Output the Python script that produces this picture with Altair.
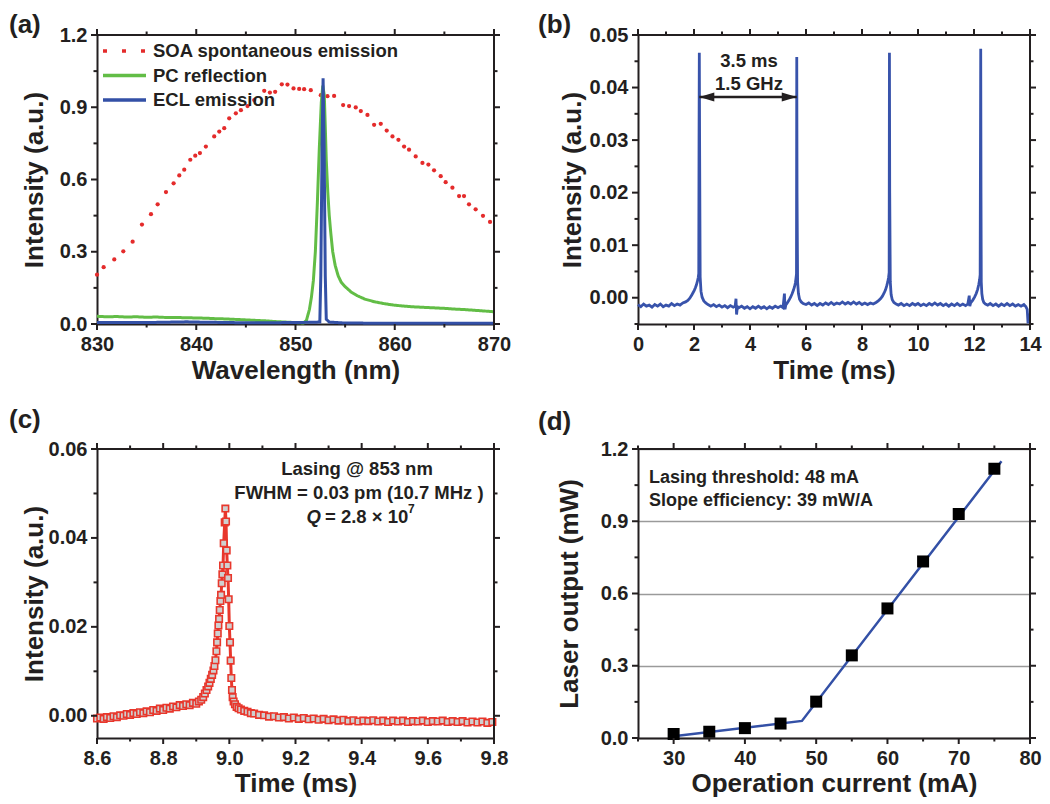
import altair as alt
import pandas as pd

FONT = "Liberation Sans"
INK = "#231f20"

# ---------------- (a) spectra ----------------
series_names = ["SOA spontaneous emission", "PC reflection", "ECL emission"]
series_colors = ["#e42b2b", "#62bd46", "#3350a6"]

soa_wl = [830.0, 830.67, 831.74, 832.65, 833.59, 834.53, 835.44, 836.11, 836.95, 837.72,
          838.29, 838.79, 839.40, 839.90, 840.37, 840.97, 841.81, 842.32, 842.82, 843.32,
          843.99, 844.50, 845.17, 845.84, 846.85, 847.42, 847.95, 848.62, 849.19, 849.80,
          850.37, 850.87, 851.54, 852.55, 853.22, 853.89, 854.80, 855.40, 856.07, 856.58,
          857.25, 857.92, 858.59, 859.19, 859.77, 860.37, 860.94, 861.44, 862.11, 862.79,
          863.39, 863.96, 864.63, 865.13, 865.81, 866.48, 866.98, 867.48, 868.15, 868.89,
          869.60]
soa_int = [0.205, 0.236, 0.268, 0.302, 0.342, 0.413, 0.456, 0.497, 0.548, 0.584,
           0.617, 0.641, 0.682, 0.699, 0.710, 0.737, 0.779, 0.799, 0.813, 0.854,
           0.875, 0.888, 0.905, 0.930, 0.968, 0.961, 0.964, 0.995, 0.994, 0.978,
           0.976, 0.975, 0.971, 0.950, 0.946, 0.947, 0.909, 0.905, 0.899, 0.884,
           0.868, 0.827, 0.831, 0.803, 0.779, 0.765, 0.737, 0.724, 0.696, 0.669,
           0.662, 0.638, 0.614, 0.589, 0.566, 0.531, 0.531, 0.497, 0.476, 0.449,
           0.424]

pc_wl = [830.0, 831, 832, 833, 834, 835, 836, 837, 838, 839, 840, 841, 842, 843, 844,
         845, 846, 847, 848, 849, 850, 850.8, 851.1, 851.4, 851.6, 851.8, 852.0, 852.2,
         852.4, 852.6, 852.75, 852.9, 853.0, 853.1, 853.25, 853.4, 853.55, 853.75, 854.0,
         854.3, 854.6, 855.0, 855.6, 856.2, 857, 858, 859, 860, 861, 862, 863, 864, 865,
         866, 867, 868, 869, 870]
pc_int = [0.032, 0.030, 0.031, 0.029, 0.030, 0.028, 0.029, 0.027, 0.027, 0.026, 0.025,
          0.024, 0.022, 0.021, 0.019, 0.017, 0.015, 0.013, 0.010, 0.008, 0.006, 0.004,
          0.015, 0.06, 0.11, 0.18, 0.30, 0.50, 0.73, 0.92, 0.99, 0.95, 0.82, 0.68, 0.55,
          0.45, 0.38, 0.30, 0.243, 0.20, 0.174, 0.155, 0.133, 0.118, 0.103, 0.092, 0.084,
          0.078, 0.074, 0.071, 0.069, 0.067, 0.065, 0.062, 0.060, 0.057, 0.054, 0.051]

ecl_wl = [830.0, 835, 839, 840, 845, 850, 852.45, 852.55, 852.68, 852.78, 852.88,
          853.0, 853.1, 853.4, 855, 860, 870]
ecl_int = [0.006, 0.006, 0.009, 0.008, 0.005, 0.006, 0.008, 0.20, 0.75, 1.02, 0.75,
           0.20, 0.02, 0.008, 0.004, 0.003, 0.003]

a_x_domain = [830, 870]
a_y_domain = [0, 1.2]
a_x_major = [830, 840, 850, 860, 870]
a_x_minor = [835, 845, 855, 865]
a_y_major = [0, 0.3, 0.6, 0.9, 1.2]
a_y_minor = [0.15, 0.45, 0.75, 1.05]

# ---------------- (b) pulse train ----------------
b_t = [0.00, 0.10, 0.20, 0.30, 0.40, 0.50, 0.60, 0.70, 0.80, 0.90, 1.00, 1.10, 1.20,
       1.30, 1.40, 1.50, 1.60, 1.70, 1.78, 1.85, 1.91, 1.96, 2.01, 2.05, 2.09, 2.12,
       2.15, 2.17, 2.18, 2.19, 2.20, 2.22, 2.25, 2.29, 2.35, 2.42, 2.50, 2.60, 2.70,
       2.80, 2.90, 3.00, 3.10, 3.20, 3.30, 3.40, 3.47, 3.50, 3.52, 3.55, 3.60, 3.70,
       3.80, 3.90, 4.00, 4.10, 4.20, 4.30, 4.40, 4.50, 4.60, 4.70, 4.80, 4.90, 5.00,
       5.10, 5.18, 5.23, 5.25, 5.28, 5.33, 5.39, 5.45, 5.50, 5.55, 5.59, 5.62, 5.64,
       5.66, 5.67, 5.68, 5.70, 5.73, 5.77, 5.83, 5.90, 6.00, 6.10, 6.20, 6.30, 6.40,
       6.50, 6.60, 6.70, 6.80, 6.90, 7.00, 7.10, 7.20, 7.30, 7.40, 7.50, 7.60, 7.70,
       7.80, 7.90, 8.00, 8.10, 8.20, 8.30, 8.40, 8.50, 8.58, 8.66, 8.73, 8.79, 8.84,
       8.88, 8.92, 8.95, 8.97, 8.98, 8.99, 9.01, 9.04, 9.08, 9.14, 9.22, 9.30, 9.40,
       9.50, 9.60, 9.70, 9.80, 9.90, 10.00, 10.10, 10.20, 10.30, 10.40, 10.50, 10.60,
       10.70, 10.80, 10.90, 11.00, 11.10, 11.20, 11.30, 11.40, 11.50, 11.60, 11.70,
       11.78, 11.83, 11.85, 11.88, 11.95, 12.02, 12.08, 12.13, 12.17, 12.20, 12.22,
       12.24, 12.25, 12.26, 12.28, 12.31, 12.35, 12.41, 12.49, 12.58, 12.68, 12.78,
       12.88, 12.98, 13.08, 13.18, 13.28, 13.38, 13.48, 13.58, 13.68, 13.78, 13.85,
       13.90, 13.93, 13.95, 13.97]
b_int = [-0.0013, -0.0017, -0.0012, -0.0016, -0.0014, -0.0018, -0.0013, -0.0016, -0.0012,
         -0.0017, -0.0014, -0.0016, -0.0011, -0.0015, -0.0012, -0.0014, -0.0010, -0.0008,
         -0.0005, -0.0001, 0.0004, 0.0009, 0.0014, 0.0019, 0.0025, 0.0031, 0.0038, 0.0046,
         0.0300, 0.0466, 0.0300, 0.0040, 0.0012, 0.0001, -0.0006, -0.0010, -0.0013,
         -0.0016, -0.0013, -0.0017, -0.0014, -0.0018, -0.0015, -0.0019, -0.0015, -0.0018,
         -0.0016, -0.0002, -0.0032, -0.0017, -0.0019, -0.0016, -0.0020, -0.0017, -0.0021,
         -0.0017, -0.0020, -0.0016, -0.0020, -0.0017, -0.0021, -0.0017, -0.0020, -0.0016,
         -0.0019, -0.0016, -0.0019, 0.0008, -0.0022, -0.0014, -0.0010, -0.0005, 0.0001,
         0.0007, 0.0014, 0.0021, 0.0028, 0.0036, 0.0045, 0.0458, 0.0200, 0.0030, 0.0008,
         -0.0003, -0.0008, -0.0011, -0.0013, -0.0010, -0.0014, -0.0011, -0.0015, -0.0011,
         -0.0014, -0.0010, -0.0013, -0.0009, -0.0013, -0.0010, -0.0012, -0.0008, -0.0012,
         -0.0009, -0.0012, -0.0008, -0.0012, -0.0009, -0.0013, -0.0010, -0.0013, -0.0010,
         -0.0012, -0.0009, -0.0006, -0.0002, 0.0003, 0.0009, 0.0015, 0.0022, 0.0030,
         0.0039, 0.0048, 0.0466, 0.0200, 0.0030, 0.0006, -0.0004, -0.0009, -0.0012,
         -0.0014, -0.0011, -0.0015, -0.0012, -0.0015, -0.0011, -0.0014, -0.0011, -0.0015,
         -0.0012, -0.0015, -0.0011, -0.0014, -0.0010, -0.0014, -0.0011, -0.0015, -0.0012,
         -0.0016, -0.0012, -0.0015, -0.0011, -0.0015, -0.0012, -0.0015, -0.0012, 0.0004,
         -0.0016, -0.0010, -0.0005, 0.0001, 0.0008, 0.0016, 0.0025, 0.0034, 0.0044,
         0.0474, 0.0200, 0.0030, 0.0008, -0.0003, -0.0009, -0.0012, -0.0014, -0.0011,
         -0.0015, -0.0012, -0.0016, -0.0012, -0.0015, -0.0011, -0.0015, -0.0012, -0.0016,
         -0.0013, -0.0016, -0.0013, -0.0017, -0.0022, -0.0049, -0.0030, -0.0045]
b_peaks = [2.19, 5.67]          # ends of the double arrow
b_arrow_level = 0.0382
b_x_domain = [0, 14]
b_y_domain = [-0.005, 0.05]
b_x_major = [0, 2, 4, 6, 8, 10, 12, 14]
b_x_minor = [1, 3, 5, 7, 9, 11, 13]
b_y_major = [0.0, 0.01, 0.02, 0.03, 0.04, 0.05]
b_y_minor = [-0.005, 0.005, 0.015, 0.025, 0.035, 0.045]

# ---------------- (c) single pulse ----------------
c_t = [8.600, 8.610, 8.620, 8.630, 8.640, 8.650, 8.660, 8.670, 8.680, 8.690, 8.700,
       8.710, 8.720, 8.730, 8.740, 8.750, 8.760, 8.770, 8.780, 8.790, 8.800, 8.810,
       8.820, 8.830, 8.840, 8.850, 8.860, 8.870, 8.880, 8.890, 8.900, 8.908, 8.915,
       8.921, 8.926, 8.931, 8.936, 8.940, 8.944, 8.948, 8.952, 8.955, 8.958, 8.961,
       8.963, 8.965, 8.967, 8.969, 8.971, 8.973, 8.975, 8.977, 8.979, 8.981, 8.983,
       8.986, 8.988, 8.990, 8.992, 8.994, 8.996, 8.998, 9.000, 9.002, 9.004, 9.006,
       9.008, 9.010, 9.013, 9.017, 9.022, 9.028, 9.035, 9.045, 9.055, 9.065, 9.075,
       9.090, 9.105, 9.120, 9.135, 9.150, 9.165, 9.180, 9.195, 9.210, 9.225, 9.240,
       9.255, 9.270, 9.285, 9.300, 9.315, 9.330, 9.345, 9.360, 9.375, 9.390, 9.405,
       9.420, 9.435, 9.450, 9.465, 9.480, 9.495, 9.510, 9.525, 9.540, 9.555, 9.570,
       9.585, 9.600, 9.615, 9.630, 9.645, 9.660, 9.675, 9.690, 9.705, 9.720, 9.735,
       9.750, 9.765, 9.780, 9.795]
c_int = [-0.0006, -0.0004, -0.0007, -0.0003, -0.0005, -0.0001, -0.0003, 0.0001, 0.0000,
         0.0004, 0.0002, 0.0006, 0.0004, 0.0008, 0.0006, 0.0010, 0.0008, 0.0013, 0.0011,
         0.0016, 0.0013, 0.0018, 0.0016, 0.0021, 0.0019, 0.0024, 0.0022, 0.0026, 0.0024,
         0.0029, 0.0027, 0.0032, 0.0036, 0.0042, 0.0050, 0.0058, 0.0066, 0.0074, 0.0083,
         0.0092, 0.0102, 0.0112, 0.0125, 0.0145, 0.0165, 0.0185, 0.0203, 0.0218, 0.0238,
         0.0258, 0.0272, 0.0298, 0.0318, 0.0338, 0.0388, 0.0435, 0.0466, 0.0437, 0.0372,
         0.0338, 0.0310, 0.0262, 0.0202, 0.0165, 0.0124, 0.0085, 0.0058, 0.0042, 0.0032,
         0.0026, 0.0020, 0.0017, 0.0014, 0.0011, 0.0009, 0.0006, 0.0005, 0.0002, 0.0001,
         -0.0002, -0.0001, -0.0004, -0.0003, -0.0006, -0.0004, -0.0007, -0.0005, -0.0008,
         -0.0006, -0.0009, -0.0007, -0.0010, -0.0008, -0.0011, -0.0009, -0.0012, -0.0010,
         -0.0013, -0.0011, -0.0012, -0.0010, -0.0013, -0.0011, -0.0014, -0.0011, -0.0013,
         -0.0011, -0.0014, -0.0012, -0.0013, -0.0011, -0.0014, -0.0012, -0.0013, -0.0011,
         -0.0014, -0.0012, -0.0014, -0.0012, -0.0015, -0.0013, -0.0015, -0.0013, -0.0016,
         -0.0014]
c_x_domain = [8.6, 9.8]
c_y_domain = [-0.005, 0.06]
c_x_major = [8.6, 8.8, 9.0, 9.2, 9.4, 9.6, 9.8]
c_x_minor = [8.7, 8.9, 9.1, 9.3, 9.5, 9.7]
c_y_major = [0.0, 0.02, 0.04, 0.06]
c_y_minor = [0.01, 0.03, 0.05]

# ---------------- (d) L-I curve ----------------
d_current = [30, 35, 40, 45, 50, 55, 60, 65, 70, 75]
d_power = [0.0165, 0.026, 0.041, 0.060, 0.151, 0.343, 0.538, 0.733, 0.930, 1.118]
d_fit_current = [30, 48, 76]
d_fit_power = [0.007, 0.071, 1.149]
d_x_domain = [25, 80]
d_y_domain = [0, 1.2]
d_x_major = [30, 40, 50, 60, 70, 80]
d_x_minor = [25, 35, 45, 55, 65, 75]
d_y_major = [0, 0.3, 0.6, 0.9, 1.2]
d_y_minor = [0.15, 0.45, 0.75, 1.05]

W1, W2, H = 397, 392, 289
MAJOR_LEN, MINOR_LEN = 6, 3.5


def make_axis(orient, values, fmt, title, title_xy, grid=False):
    kw = dict(orient=orient, values=values, ticks=False,
              domain=True, domainColor=INK, domainWidth=2,
              format=fmt, labelFont=FONT, labelFontSize=20, labelFontWeight="bold",
              labelColor=INK, labelPadding=MAJOR_LEN + 4, labelOverlap=False,
              labelFlush=False, grid=grid,
              title=title, titleFont=FONT, titleFontSize=26, titleFontWeight="bold",
              titleColor=INK, titleX=title_xy[0], titleY=title_xy[1],
              titleBaseline="middle", titleAlign="center")
    if grid:
        kw.update(gridColor="#9a9a9a", gridWidth=1.3)
    if orient == "left":
        kw["titleAngle"] = 270
    return alt.Axis(**kw)


class Panel:
    """Shared scales and axes of one panel; every layer uses the same axis spec."""

    def __init__(self, xdom, ydom, ax, ay):
        self.xdom, self.ydom = xdom, ydom
        self.sx = alt.Scale(domain=xdom, nice=False, zero=False)
        self.sy = alt.Scale(domain=ydom, nice=False, zero=False)
        self.ax, self.ay = ax, ay

    def X(self, field):
        return alt.X(field, type="quantitative", scale=self.sx, axis=self.ax)

    def Y(self, field):
        return alt.Y(field, type="quantitative", scale=self.sy, axis=self.ay)

    def XD(self, v):
        return alt.XDatum(v, scale=self.sx, axis=self.ax)

    def YD(self, v):
        return alt.YDatum(v, scale=self.sy, axis=self.ay)

    def ticks(self, xmaj, xmin, ymaj, ymin):
        layers = []
        for vals, ln in ((xmaj, MAJOR_LEN), (xmin, MINOR_LEN)):
            df = pd.DataFrame({"v": vals})
            for edge, off in ((self.ydom[0], ln / 2), (self.ydom[1], -ln / 2)):
                layers.append(alt.Chart(df).mark_tick(
                    orient="vertical", size=ln, thickness=2, color=INK, opacity=1, yOffset=off
                ).encode(x=self.X("v"), y=self.YD(edge)))
        for vals, ln in ((ymaj, MAJOR_LEN), (ymin, MINOR_LEN)):
            df = pd.DataFrame({"v": vals})
            for edge, off in ((self.xdom[0], -ln / 2), (self.xdom[1], ln / 2)):
                layers.append(alt.Chart(df).mark_tick(
                    orient="horizontal", size=ln, thickness=2, color=INK, opacity=1, xOffset=off
                ).encode(y=self.Y("v"), x=self.XD(edge)))
        one = pd.DataFrame({"k": [0]})
        # top and right frame lines
        layers.append(alt.Chart(one).mark_rule(color=INK, strokeWidth=2).encode(
            x=self.XD(self.xdom[0]), x2=alt.X2Datum(self.xdom[1]), y=self.YD(self.ydom[1])))
        layers.append(alt.Chart(one).mark_rule(color=INK, strokeWidth=2).encode(
            y=self.YD(self.ydom[0]), y2=alt.Y2Datum(self.ydom[1]), x=self.XD(self.xdom[1])))
        return layers


def note(text, x, y, align="center", size=18.5, style="normal"):
    return alt.Chart(pd.DataFrame({"s": [text]})).mark_text(
        align=align, baseline="middle", font=FONT, fontSize=size, fontWeight="bold",
        fontStyle=style, color=INK,
    ).encode(text="s:N", x=alt.value(x), y=alt.value(y))


def tag(text, x, y):
    return alt.Chart(pd.DataFrame({"s": [text]})).mark_text(
        align="left", baseline="top", font=FONT, fontSize=26, fontWeight="bold", color=INK,
    ).encode(text="s:N", x=alt.value(x), y=alt.value(y))


# ---- panel a ----
pa = Panel(a_x_domain, a_y_domain,
           make_axis("bottom", a_x_major, "d", "Wavelength (nm)", (W1 / 2, 46)),
           make_axis("left", a_y_major, ".1f", "Intensity (a.u.)", (-63, H / 2)))
soa_df = pd.DataFrame({"wl": soa_wl, "val": soa_int, "series": series_names[0]})
line_df = pd.concat([
    pd.DataFrame({"wl": pc_wl, "val": pc_int, "series": series_names[1]}),
    pd.DataFrame({"wl": ecl_wl, "val": ecl_int, "series": series_names[2]}),
], ignore_index=True)
line_df["order"] = range(len(line_df))
leg = alt.Legend(orient="none", legendX=4, legendY=7, title=None, direction="vertical",
                 symbolType="stroke", symbolSize=1849, symbolStrokeWidth=3.5,
                 labelFont=FONT, labelFontSize=18.5, labelFontWeight="bold",
                 labelColor=INK, labelOffset=5, labelLimit=400, rowPadding=5.5,
                 clipHeight=18, padding=0)
color_a = alt.Color("series:N", scale=alt.Scale(domain=series_names, range=series_colors),
                    legend=leg)
a_points = alt.Chart(soa_df).mark_circle(size=18, opacity=1).encode(
    x=pa.X("wl"), y=pa.Y("val"), color=color_a)
a_lines = alt.Chart(line_df).mark_line(strokeWidth=3).encode(
    x=pa.X("wl"), y=pa.Y("val"), color=color_a,
    strokeDash=alt.StrokeDash("series:N", scale=alt.Scale(domain=series_names, range=[[4, 15], [1, 0], [1, 0]]),
                              legend=leg),
    order="order:Q")
panel_a = alt.layer(
    a_points, a_lines,
    *pa.ticks(a_x_major, a_x_minor, a_y_major, a_y_minor),
    tag("(a)", -88, -23),
).properties(width=W1, height=H)

# ---- panel b ----
pb = Panel(b_x_domain, b_y_domain,
           make_axis("bottom", b_x_major, "d", "Time (ms)", (W2 / 2, 46)),
           make_axis("left", b_y_major, ".2f", "Intensity (a.u.)", (-66, H / 2)))
b_df = pd.DataFrame({"t": b_t, "v": b_int})
one = pd.DataFrame({"k": [0]})
b_line = alt.Chart(b_df).mark_line(strokeWidth=2.8, color="#3853ab").encode(
    x=pb.X("t"), y=pb.Y("v"))
b_rule = alt.Chart(one).mark_rule(strokeWidth=2.5, color=INK).encode(
    x=pb.XD(b_peaks[0]), x2=alt.X2Datum(b_peaks[1]), y=pb.YD(b_arrow_level))
b_head_l = alt.Chart(one).mark_point(shape="M-1,0L1,-0.6L1,0.6Z", filled=True, size=225,
                                     color=INK, opacity=1, xOffset=7.5).encode(
    x=pb.XD(b_peaks[0]), y=pb.YD(b_arrow_level))
b_head_r = alt.Chart(one).mark_point(shape="M1,0L-1,-0.6L-1,0.6Z", filled=True, size=225,
                                     color=INK, opacity=1, xOffset=-7.5).encode(
    x=pb.XD(b_peaks[1]), y=pb.YD(b_arrow_level))
panel_b = alt.layer(
    b_line, b_rule, b_head_l, b_head_r,
    *pb.ticks(b_x_major, b_x_minor, b_y_major, b_y_minor),
    note("3.5 ms", 111, 26), note("1.5 GHz", 111, 49),
    tag("(b)", -100, -23),
).properties(width=W2, height=H)

# ---- panel c ----
pc = Panel(c_x_domain, c_y_domain,
           make_axis("bottom", c_x_major, ".1f", "Time (ms)", (W1 / 2, 45)),
           make_axis("left", c_y_major, ".2f", "Intensity (a.u.)", (-63, H / 2)))
c_df = pd.DataFrame({"t": c_t, "v": c_int})
c_line = alt.Chart(c_df).mark_line(strokeWidth=3, color="#e8372c").encode(
    x=pc.X("t"), y=pc.Y("v"))
c_pts = alt.Chart(c_df).mark_point(shape="square", size=42, filled=False, fill="#cfcfcf",
                                   fillOpacity=1, stroke="#e8372c", strokeWidth=1.6,
                                   opacity=1).encode(x=pc.X("t"), y=pc.Y("v"))
panel_c = alt.layer(
    c_line, c_pts,
    *pc.ticks(c_x_major, c_x_minor, c_y_major, c_y_minor),
    note("Lasing @ 853 nm", 260, 20),
    note("FWHM = 0.03 pm (10.7 MHz )", 262, 44),
    note("Q", 224, 68, align="right", style="italic"),
    note("= 2.8 \u00d7 10", 228, 68, align="left"),
    note("7", 311, 60, align="left", size=12),
    tag("(c)", -88, -42),
).properties(width=W1, height=H)

# ---- panel d ----
pd_ = Panel(d_x_domain, d_y_domain,
            make_axis("bottom", d_x_major, "d", "Operation current (mA)", (W2 / 2, 45)),
            make_axis("left", d_y_major, ".1f", "Laser output (mW)", (-69, H / 2), grid=True))
d_df = pd.DataFrame({"i": d_current, "p": d_power})
d_fit = pd.DataFrame({"i": d_fit_current, "p": d_fit_power})
d_line = alt.Chart(d_fit).mark_line(strokeWidth=2.5, color="#3350a6").encode(
    x=pd_.X("i"), y=pd_.Y("p"))
d_pts = alt.Chart(d_df).mark_square(size=144, color="black", opacity=1).encode(
    x=pd_.X("i"), y=pd_.Y("p"))
panel_d = alt.layer(
    d_line, d_pts,
    *pd_.ticks(d_x_major, d_x_minor, d_y_major, d_y_minor),
    note("Lasing threshold: 48 mA", 11, 29, align="left", size=18),
    note("Slope efficiency: 39 mW/A", 11, 52, align="left", size=18),
    tag("(d)", -100, -40),
).properties(width=W2, height=H)

chart = alt.concat(
    panel_a, panel_b, panel_c, panel_d, columns=2,
    spacing={"row": 125, "column": 144}, bounds="flush",
).properties(padding={"top": 3, "bottom": 0, "left": 0, "right": 0}).configure_view(
    stroke=INK, strokeWidth=2).configure(background="white")

chart.save("out.html", embed_options={"renderer": "svg", "actions": False})
